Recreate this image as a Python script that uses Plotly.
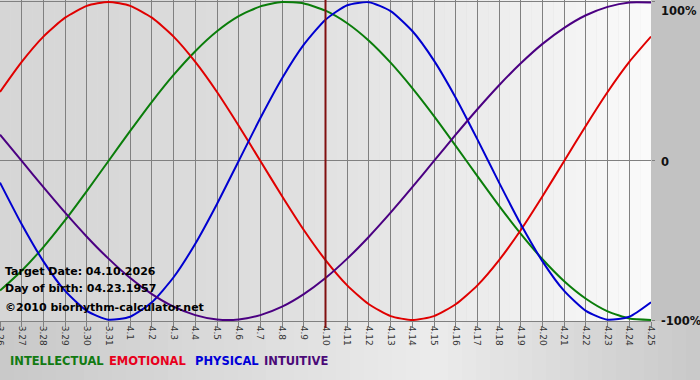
import plotly.graph_objects as go

# ---------------- data ----------------
days = ["3.26", "3.27", "3.28", "3.29", "3.30", "3.31",
        "4.1", "4.2", "4.3", "4.4", "4.5", "4.6", "4.7", "4.8", "4.9", "4.10",
        "4.11", "4.12", "4.13", "4.14", "4.15", "4.16", "4.17", "4.18", "4.19",
        "4.20", "4.21", "4.22", "4.23", "4.24", "4.25"]

intellectual = [-0.815, -0.690, -0.541, -0.372, -0.189, 0.0, 0.189, 0.372, 0.541, 0.690,
                0.815, 0.910, 0.972, 0.999, 0.990, 0.945, 0.866, 0.756, 0.618, 0.458,
                0.282, 0.095, -0.095, -0.282, -0.458, -0.618, -0.756, -0.866, -0.945,
                -0.990, -0.999]

emotional = [0.434, 0.623, 0.782, 0.901, 0.975, 1.0, 0.975, 0.901, 0.782, 0.623,
             0.434, 0.222, 0.0, -0.222, -0.434, -0.623, -0.782, -0.901, -0.975, -1.0,
             -0.975, -0.901, -0.782, -0.623, -0.434, -0.222, 0.0, 0.222, 0.434,
             0.623, 0.782]

physical = [-0.136, -0.398, -0.631, -0.817, -0.942, -0.998, -0.979, -0.888, -0.731, -0.520,
            -0.270, 0.0, 0.270, 0.520, 0.731, 0.888, 0.979, 0.998, 0.942, 0.817,
            0.631, 0.398, 0.136, -0.136, -0.398, -0.631, -0.817, -0.942, -0.998,
            -0.979, -0.888]

intuitive = [0.165, 0.0, -0.165, -0.325, -0.476, -0.614, -0.736, -0.837, -0.916, -0.969,
             -0.997, -0.997, -0.969, -0.916, -0.837, -0.736, -0.614, -0.476, -0.325, -0.165,
             0.0, 0.165, 0.325, 0.476, 0.614, 0.736, 0.837, 0.916, 0.969,
             0.997, 0.997]

series_names = ["INTELLECTUAL", "EMOTIONAL", "PHYSICAL", "INTUITIVE"]
target_day = "4.10"
y_ticks = [-1, 0, 1]
y_tick_text = ["-100%", "0", "100%"]
info_lines = ["Target Date: 04.10.2026", "Day of birth: 04.23.1957",
              "\u00a92010 biorhythm-calculator.net"]

# ---------------- styles ----------------
line_colors = ["#0a7d0a", "#e00000", "#0000d0", "#4b0082"]
legend_colors = ["#127a12", "#e8001c", "#0000d8", "#4b0a78"]
FONT = "DejaVu Sans"
W, H = 700, 380
ML, MR, MT, MB = 0, 49, 0, 59
PW, PH = W - ML - MR, H - MT - MB

xs = list(range(len(days)))
fig = go.Figure()
for name, vals, col in zip(series_names, [intellectual, emotional, physical, intuitive], line_colors):
    fig.add_trace(go.Scatter(x=xs, y=vals, mode="lines", name=name,
                             line=dict(color=col, width=2, shape="spline", smoothing=0.6),
                             hoverinfo="skip", showlegend=False))

shapes = []
# plot-area gradient (gray on the left -> almost white on the right)
n = 60
xmax = len(days) - 1
for i in range(n):
    t = (i + 0.5) / n
    v = int(round(214 + (250 - 214) * t ** 1.6))
    c = f"rgb({v},{v},{v})"
    shapes.append(dict(type="rect", xref="x", yref="paper",
                       x0=xmax * i / n, x1=xmax * (i + 1) / n, y0=0, y1=1,
                       fillcolor=c, line=dict(width=0), layer="below"))
# bottom margin gradient
nb = 50
xr = W / PW
for i in range(nb):
    t = (i + 0.5) / nb
    if t < 0.62:
        s = t / 0.62
        v = 200 + (236 - 200) * s
    else:
        s = (t - 0.62) / 0.38
        v = 236 + (200 - 236) * s
    v = int(round(v))
    shapes.append(dict(type="rect", xref="paper", yref="paper",
                       x0=xr * i / nb, x1=xr * (i + 1) / nb, y0=-MB / PH, y1=0,
                       fillcolor=f"rgb({v},{v},{v})", line=dict(width=0), layer="below"))
# target-date line
ti = days.index(target_day)
shapes.append(dict(type="line", xref="x", yref="paper", x0=ti, x1=ti,
                   y0=-7 / PH, y1=1, line=dict(color="#801010", width=2)))

annotations = []
for txt, ypx in zip(info_lines, [271, 288, 307]):
    annotations.append(dict(text=f"<b>{txt}</b>", xref="paper", yref="paper",
                            x=3 / PW, y=1 - ypx / PH, xanchor="left", yanchor="middle",
                            showarrow=False, font=dict(family=FONT, size=11, color="#000")))
leg_x = [8, 107, 193, 262]
for name, col, lx in zip(series_names, legend_colors, leg_x):
    annotations.append(dict(text=f"<b>{name}</b>", xref="paper", yref="paper",
                            x=lx / PW, y=1 - 361 / PH, xanchor="left", yanchor="middle",
                            showarrow=False, font=dict(family=FONT, size=11.5, color=col)))
# right-hand percentage labels
for val, txt in zip(y_ticks, y_tick_text):
    annotations.append(dict(text=f"<b>{txt}</b>", xref="paper", yref="y",
                            x=(659 - ML) / PW, y=val, xanchor="left",
                            yanchor="top" if val == 1 else "middle",
                            yshift=0 if val == 1 else -1,
                            showarrow=False, font=dict(family=FONT, size=11.5, color="#111")))

fig.update_layout(
    width=W, height=H,
    margin=dict(l=ML, r=MR, t=MT, b=MB, pad=0),
    paper_bgcolor="#c2c2c2", plot_bgcolor="#dcdcdc",
    shapes=shapes, annotations=annotations,
    showlegend=False,
    xaxis=dict(range=[0, xmax], tickvals=xs, ticktext=days, tickangle=90,
               showgrid=True, gridcolor="#808080", gridwidth=1, zeroline=False,
               ticks="outside", ticklen=5, tickcolor="#808080", ticklabelstandoff=-3,
               ticklabeloverflow="allow",
               showline=True, linecolor="#808080", linewidth=1, automargin=False,
               tickfont=dict(family=FONT, size=9, color="#333"), fixedrange=True),
    yaxis=dict(range=[-1.006, 1.012], side="right", tickvals=y_ticks,
               showticklabels=False,
               showgrid=True, gridcolor="#808080", gridwidth=1, zeroline=False,
               ticks="outside", ticklen=3, tickcolor="#808080", automargin=False,
               fixedrange=True),
)

fig.write_html("out.html", post_script="document.body.style.margin='0';",
               config={"displayModeBar": False, "staticPlot": True})
